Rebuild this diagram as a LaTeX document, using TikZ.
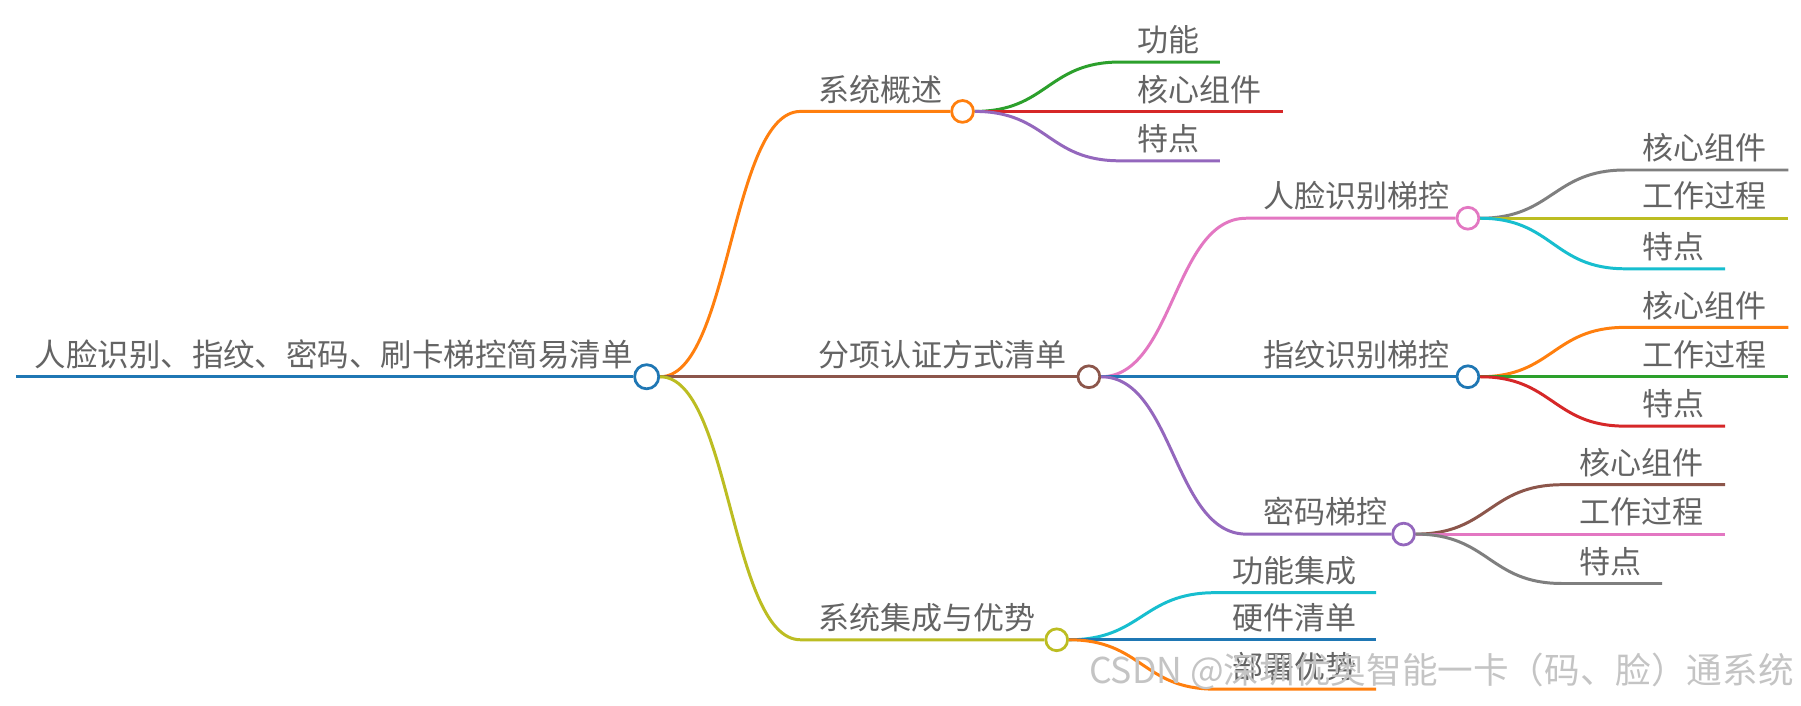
\documentclass[tikz,border=0pt]{standalone}
\usepackage{fontspec}
\newfontfamily\cjk{Noto Sans CJK SC}
\usetikzlibrary{calc}
\definecolor{ink}{HTML}{646464}
\definecolor{cBlue}{HTML}{1F77B4}
\definecolor{cOrange}{HTML}{FF7F0E}
\definecolor{cGreen}{HTML}{2CA02C}
\definecolor{cRed}{HTML}{D62728}
\definecolor{cPurple}{HTML}{9467BD}
\definecolor{cBrown}{HTML}{8C564B}
\definecolor{cPink}{HTML}{E377C2}
\definecolor{cGray}{HTML}{7F7F7F}
\definecolor{cOlive}{HTML}{BCBD22}
\definecolor{cCyan}{HTML}{17BECF}
\definecolor{cMark}{HTML}{C4C4C4}
\newcommand{\Twig}[4]{% from, knee, to, colour
\path ($(#1.east)!.5!(#2)$) coordinate (mid);
\draw[twig, #4] (#1.east) .. controls (mid |- #1.east) and (mid |- #2) .. (#2) -- (#3);
}
\newcommand{\Stem}[7]{% from, name, knee x, y, hub x, colour, text
\coordinate (k#2) at (#3,#4);
\node[hub, draw=#6] (#2) at (#5,#4) {};
\Twig{#1}{k#2}{#2.west}{#6}
\node[word] (t#2) at ([xshift=15pt, yshift=9pt]k#2) {#7};
}
\newcommand{\Leaf}[7]{% from, name, knee x, y, end x, colour, text
\coordinate (k#2) at (#3,#4);
\coordinate (e#2) at (#5,#4);
\Twig{#1}{k#2}{e#2}{#6}
\node[word] (t#2) at ([xshift=15pt, yshift=9pt]k#2) {#7};
}

\begin{document}
\begin{tikzpicture}[x=1pt, y=-1pt,
hub/.style={circle, fill=white, line width=2.4pt, minimum size=19pt, inner sep=0},
twig/.style={line width=2.6pt},
word/.style={text=ink, font=\cjk\fontsize{27}{30}\selectfont, anchor=base west, inner sep=0},
]
\fill[white] (0,0) rectangle (1568,614);
\useasboundingbox (0,0) rectangle (1568,614);

%%%%%%%%%%%%%%%%%%%%%%%% ROOT %%%%%%%%%%%%%%%%%%%%%%%%
\coordinate (rootStart) at (14,328);
\node[hub, draw=cBlue, minimum size=21pt] (R) at (563,328) {};
\draw[twig, cBlue] (rootStart) -- (R.west);
\node[word, font=\cjk\fontsize{27.4}{30}\selectfont] (tR) at (30,319) {人脸识别、指纹、密码、刷卡梯控简易清单};

%%%%%%%%%%%%%%%%%%%%%%%% FIRST LEVEL %%%%%%%%%%%%%%%%%%%%%%%%
\Stem{R}{A}{697}{97}{838}{cOrange}{系统概述}
\Stem{R}{B}{697}{328}{948}{cBrown}{分项认证方式清单}
\Stem{R}{C}{697}{557}{920}{cOlive}{系统集成与优势}

%%%%%%%%%%%%%%%%%%%%%%%% OVERVIEW %%%%%%%%%%%%%%%%%%%%%%%%
\Leaf{A}{A1}{975}{54}{1062}{cGreen}{功能}
\Leaf{A}{A2}{975}{97}{1117}{cRed}{核心组件}
\Leaf{A}{A3}{975}{140}{1062}{cPurple}{特点}

%%%%%%%%%%%%%%%%%%%%%%%% METHODS %%%%%%%%%%%%%%%%%%%%%%%%
\Stem{B}{BF}{1085}{190}{1278}{cPink}{人脸识别梯控}
\Stem{B}{BP}{1085}{328}{1278}{cBlue}{指纹识别梯控}
\Stem{B}{BC}{1085}{465}{1222}{cPurple}{密码梯控}

\Leaf{BF}{BF1}{1415}{148}{1557}{cGray}{核心组件}
\Leaf{BF}{BF2}{1415}{190}{1557}{cOlive}{工作过程}
\Leaf{BF}{BF3}{1415}{234}{1502}{cCyan}{特点}

\Leaf{BP}{BP1}{1415}{285}{1557}{cOrange}{核心组件}
\Leaf{BP}{BP2}{1415}{328}{1557}{cGreen}{工作过程}
\Leaf{BP}{BP3}{1415}{371}{1502}{cRed}{特点}

\Leaf{BC}{BC1}{1360}{422}{1502}{cBrown}{核心组件}
\Leaf{BC}{BC2}{1360}{465}{1502}{cPink}{工作过程}
\Leaf{BC}{BC3}{1360}{508}{1447}{cGray}{特点}

%%%%%%%%%%%%%%%%%%%%%%%% INTEGRATION %%%%%%%%%%%%%%%%%%%%%%%%
\Leaf{C}{C1}{1058}{516}{1198}{cCyan}{功能集成}
\Leaf{C}{C2}{1058}{557}{1198}{cBlue}{硬件清单}
\Leaf{C}{C3}{1058}{600}{1198}{cOrange}{部署优势}

%%%%%%%%%%%%%%%%%%%%%%%% WATERMARK %%%%%%%%%%%%%%%%%%%%%%%%
\node[word, text=cMark, font=\cjk\fontsize{31}{33}\selectfont] (wm) at (948,595) {CSDN @深圳优奥智能一卡（码、脸）通系统};
\end{tikzpicture}
\end{document}
